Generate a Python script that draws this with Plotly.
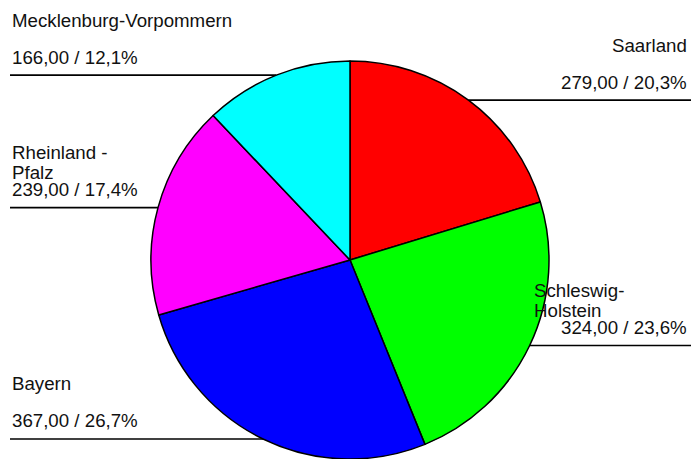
import math
import plotly.graph_objects as go

# ---- data ----
labels = ["Saarland", "Schleswig-Holstein", "Bayern", "Rheinland - Pfalz", "Mecklenburg-Vorpommern"]
label_lines = [["Saarland"], ["Schleswig-", "Holstein"], ["Bayern"], ["Rheinland -", "Pfalz"], ["Mecklenburg-Vorpommern"]]
values = [279, 324, 367, 239, 166]
colors = ["#FF0000", "#00FF00", "#0000FF", "#FF00FF", "#00FFFF"]

W, H = 691, 459
# pie geometry (paper domain)
dom_x = [150 / W, 550 / W]
dom_y = [0.0, 398 / H]
cx = (dom_x[0] + dom_x[1]) / 2 * W
cy = H - (dom_y[0] + dom_y[1]) / 2 * H  # px from top
R = min((dom_x[1] - dom_x[0]) * W, (dom_y[1] - dom_y[0]) * H) / 2

FONT = dict(family="Liberation Sans, Arial, sans-serif", size=18.7, color="#111111")

fig = go.Figure(go.Pie(
    labels=labels, values=values, sort=False, direction="clockwise", rotation=0,
    marker=dict(colors=colors, line=dict(color="black", width=1.5)),
    textinfo="none", hoverinfo="label+value+percent", showlegend=False,
    domain=dict(x=dom_x, y=dom_y),
))

total = sum(values)
shapes, annotations = [], []
cum = 0.0
LEFT_X, RIGHT_X = 10, 689
LINE_GAP = 20
for lab, lines, v in zip(labels, label_lines, values):
    frac = v / total
    mid = (cum + frac / 2) * 2 * math.pi
    cum += frac
    px = cx + R * math.sin(mid)
    py = cy - R * math.cos(mid)
    right = px > cx
    x_end = W if right else LEFT_X
    shapes.append(dict(type="line", xref="paper", yref="paper",
                       x0=px / W, x1=x_end / W, y0=1 - py / H, y1=1 - py / H,
                       line=dict(color="black", width=1.6)))
    vtxt = f"{v:.2f}".replace(".", ",") + " / " + f"{frac*100:.1f}".replace(".", ",") + "%"
    if right:
        vx, vanchor = RIGHT_X, "right"
        if len(lines) > 1:
            nx, nanchor = px + 2, "left"
        else:
            nx, nanchor = RIGHT_X, "right"
    else:
        vx, vanchor = LEFT_X, "left"
        nx, nanchor = LEFT_X, "left"
    annotations.append(dict(text=vtxt, xref="paper", yref="paper", x=vx / W, y=1 - (py - 18) / H,
                            xanchor=vanchor, yanchor="middle", showarrow=False, font=FONT))
    for i, ln in enumerate(lines):
        annotations.append(dict(text=ln, xref="paper", yref="paper", x=nx / W,
                                y=1 - (py - 55 + i * LINE_GAP) / H,
                                xanchor=nanchor, yanchor="middle", showarrow=False, font=FONT))

fig.update_layout(width=W, height=H, margin=dict(l=0, r=0, t=0, b=0),
                  paper_bgcolor="white", plot_bgcolor="white",
                  shapes=shapes, annotations=annotations)
fig.write_html("out.html", config={"displayModeBar": False})

# remove default browser body margin so the figure sits at the window's top-left
with open("out.html", "r", encoding="utf-8") as f:
    html = f.read()
html = html.replace("<body>", '<body style="margin:0;padding:0;overflow:hidden">', 1)
with open("out.html", "w", encoding="utf-8") as f:
    f.write(html)
